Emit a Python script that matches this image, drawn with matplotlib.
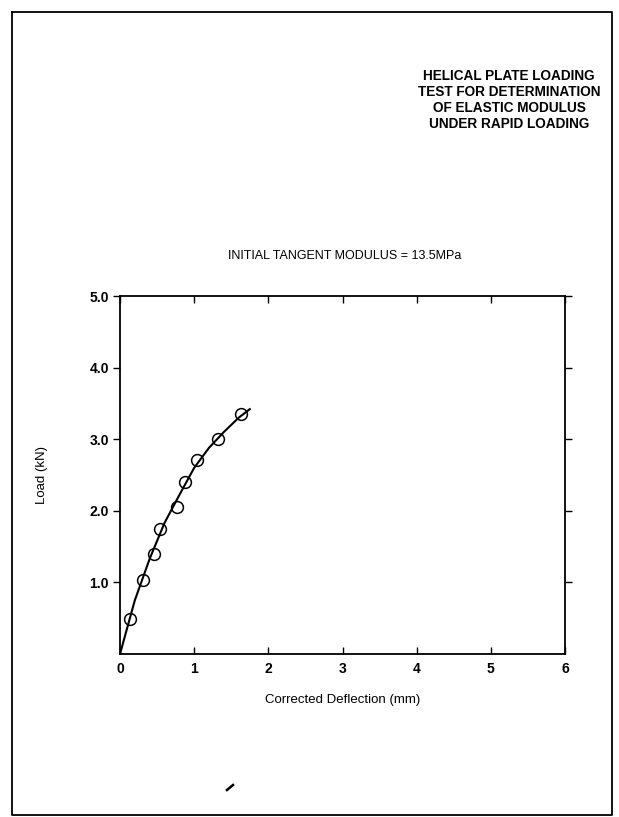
import matplotlib.pyplot as plt
from matplotlib.lines import Line2D

# measured points
deflection = [0.13, 0.31, 0.46, 0.54, 0.77, 0.88, 1.04, 1.32, 1.63]
load = [0.49, 1.03, 1.40, 1.75, 2.05, 2.40, 2.71, 3.00, 3.35]

# hand-drawn fit curve
fit_x = [0.0, 0.2, 0.4, 0.6, 0.8, 1.0, 1.2, 1.4, 1.6, 1.75]
fit_y = [0.0, 0.75, 1.33, 1.83, 2.22, 2.60, 2.88, 3.10, 3.30, 3.42]

xticks = [0, 1, 2, 3, 4, 5, 6]
yticks = [1.0, 2.0, 3.0, 4.0, 5.0]

title_lines = ["HELICAL PLATE LOADING", "TEST FOR DETERMINATION",
               "OF ELASTIC MODULUS", "UNDER RAPID LOADING"]

plt.rcParams['font.family'] = ['Liberation Sans', 'DejaVu Sans']

W, H = 619, 817
fig = plt.figure(figsize=(W / 100, H / 100), dpi=100)

# page frame
fx = lambda px: px / W
fy = lambda py: 1 - py / H
frame = [(12, 12), (612, 12), (612, 815), (12, 815), (12, 12)]
fig.add_artist(Line2D([fx(p[0]) for p in frame], [fy(p[1]) for p in frame],
                      color='black', lw=1.3))
fig.add_artist(Line2D([fx(227), fx(233)], [fy(790), fy(785)], color='black', lw=1.8))

for i, line in enumerate(title_lines):
    fig.text(fx(509), fy(76 + i * 16), line, ha='center', va='center',
             fontsize=9.8, fontweight='bold')

fig.text(fx(345), fy(256), "INITIAL TANGENT MODULUS = 13.5MPa",
         ha='center', va='center', fontsize=9)

ax = fig.add_axes([fx(120), fy(654), (565 - 120) / W, (654 - 296) / H])
ax.plot(fit_x, fit_y, color='black', lw=1.5)
ax.plot(deflection, load, 'o', mfc='none', mec='black', ms=8.5, mew=1.1)

ax.set_xlim(0, 6)
ax.set_ylim(0, 5)
ax.set_xticks(xticks)
ax.set_yticks(yticks)
ax.set_yticklabels([f"{v:.1f}" for v in yticks])
ax.tick_params(direction='in', top=True, right=True, length=5, width=1,
               labelsize=10)
ax.tick_params(axis='x', pad=6)
ax.tick_params(axis='y', which='both', left=True, direction='out', pad=3)
for lbl in ax.get_xticklabels() + ax.get_yticklabels():
    lbl.set_fontweight('bold')
for s in ax.spines.values():
    s.set_linewidth(1.3)

ax.set_xlabel("Corrected Deflection (mm)", fontsize=9.5, labelpad=13)
ax.set_ylabel("Load (kN)", fontsize=9.5, labelpad=30)

fig.savefig("out.png", dpi=100)
